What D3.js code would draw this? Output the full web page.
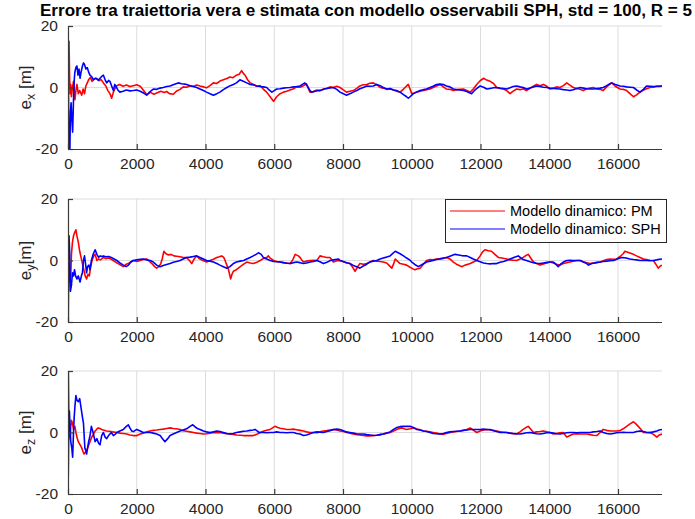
<!DOCTYPE html>
<html>
<head>
<meta charset="utf-8">
<script src="https://cdn.jsdelivr.net/npm/d3@7"></script>
<style>
  html, body { margin: 0; padding: 0; background: #fff; }
  svg { display: block; font-family: "Liberation Sans", Arial, Helvetica, sans-serif; }
</style>
</head>
<body>
<svg id="fig" width="695" height="519"></svg>
<script>
// Position error (m) versus time step, one panel per axis.
const titleText = "Errore tra traiettoria vera e stimata con modello osservabili SPH, std = 100, R = 5";
const seriesNames = ["Modello dinamico: PM", "Modello dinamico: SPH"];
const seriesColors = ["#ff0000", "#0000ff"];
const xTicks = [0, 2000, 4000, 6000, 8000, 10000, 12000, 14000, 16000];
const yTicks = [-20, 0, 20];
const xMax = 17280;

// e_x, dynamic model PM: [step, error]
const exPM = [[0,0],[15,6],[30,15],[45,4],[60,-2],[80,1],[100,-3],[130,0],[160,2],[200,-4],[230,-1],[260,1],[300,-2],[340,-1],[400,-2.5],[440,-0.5],[480,-2],[520,0.5],[560,1.5],[600,2.5],[650,3.3],[700,2],[760,2.8],[830,3],[900,2.2],[960,2.6],[1030,1.5],[1100,0.5],[1160,-1],[1220,-2],[1270,-3.5],[1320,-1.5],[1380,0],[1420,0.6],[1500,1],[1600,0.4],[1700,0.8],[1800,0.3],[1900,0.6],[2000,0.9],[2100,0.4],[2200,-1],[2290,-2.3],[2400,-1.6],[2500,-2.2],[2580,-1.8],[2700,-1.2],[2800,-1.6],[2870,-1.3],[2950,-2],[3065,-2.2],[3150,-1.2],[3260,-0.6],[3350,0.2],[3450,0.1],[3550,0.6],[3650,0.3],[3740,0.8],[3840,0.5],[3950,0.2],[4030,-0.1],[4130,0.6],[4230,1.5],[4320,1.3],[4420,2.1],[4520,2.5],[4620,2.9],[4710,3.4],[4800,3.2],[4900,4],[4980,4.3],[5050,5.5],[5100,4.6],[5150,4],[5220,2.6],[5300,1.5],[5400,1],[5490,0.4],[5590,0.6],[5680,-0.5],[5780,-1.5],[5880,-3],[5980,-4.5],[6070,-3],[6170,-2],[6270,-1.5],[6360,-1.2],[6460,-0.8],[6560,-0.4],[6650,0.2],[6750,0.1],[6850,0.6],[6940,1.2],[6990,-0.3],[7040,-1.5],[7140,-1.3],[7240,-0.8],[7330,-1.1],[7430,-0.5],[7530,-0.3],[7620,0.2],[7720,0],[7820,0.4],[7913,0],[8010,-0.8],[8100,-1.5],[8200,-1.2],[8300,-1],[8400,-0.3],[8490,0.5],[8590,0.9],[8690,1],[8780,1.4],[8880,1.5],[8980,0.9],[9080,0],[9170,-0.2],[9270,-0.6],[9370,-0.5],[9470,-0.8],[9560,-1.2],[9660,-1.5],[9760,-0.5],[9850,0.5],[9900,1],[9950,-0.5],[10000,-2],[10070,-1.8],[10140,-1.5],[10240,-1.2],[10340,-1],[10430,-0.7],[10530,-0.5],[10620,0],[10720,0.5],[10820,1],[10920,0.2],[11010,-0.5],[11110,-0.6],[11210,-1],[11300,-0.7],[11400,-0.6],[11500,-0.5],[11600,-1],[11700,-1.5],[11790,-0.5],[11890,1],[11990,2.2],[12090,3],[12180,2.4],[12280,2],[12380,1.3],[12470,0],[12570,-0.3],[12670,-0.5],[12760,-1],[12860,-2],[12950,-1.2],[13050,-0.5],[13150,-0.7],[13240,-0.4],[13340,-1],[13440,-0.2],[13540,0.4],[13630,1],[13730,0.6],[13830,1],[13930,0.4],[14020,-0.5],[14120,-0.2],[14210,0.2],[14310,0],[14410,0.6],[14510,1.5],[14600,0.8],[14700,0],[14800,-0.3],[14900,-0.6],[14990,-1],[15090,-0.4],[15190,-0.2],[15280,0],[15380,-0.5],[15480,-0.6],[15570,-1],[15670,0.2],[15770,1.2],[15820,1.5],[15920,0.4],[16060,-0.5],[16150,-0.6],[16250,-1],[16350,-2],[16450,-3],[16540,-2.4],[16640,-1.5],[16740,-0.8],[16830,-0.4],[16930,0],[17030,0.1],[17130,0.4],[17200,0.3],[17280,0.5]];

// e_x, dynamic model SPH
const exSPH = [[0,20],[10,5],[20,-12],[35,-20],[55,-20],[70,-8],[90,-5],[110,-10],[135,-14.5],[160,-4],[185,3],[200,5],[230,6.5],[260,7],[290,4],[320,6],[350,3],[380,5],[420,7],[450,8],[480,7.5],[520,6],[560,6.5],[600,5],[640,4],[690,3.5],[740,2.5],[790,3],[830,2.8],[880,2.4],[930,3],[980,3.6],[1030,4],[1080,2.5],[1125,1.5],[1180,2.3],[1220,2],[1270,0.5],[1320,-1],[1360,1],[1400,0.3],[1450,-0.8],[1510,-1.5],[1600,-1.2],[1700,-0.8],[1800,-1.1],[1900,-1],[2000,-0.8],[2100,-1.2],[2200,-1.8],[2290,-2.5],[2380,-1.4],[2480,-0.5],[2580,-0.6],[2680,-0.2],[2770,0],[2870,0.3],[2970,0.5],[3060,0.9],[3160,1.3],[3210,1.5],[3300,1.2],[3400,1.1],[3450,1],[3550,0.6],[3650,0.3],[3740,0],[3840,-0.5],[3940,-1],[4030,-1.5],[4130,-2],[4230,-2.5],[4330,-2],[4420,-1.5],[4520,-0.7],[4620,0],[4720,0.6],[4810,1],[4900,1.5],[5000,2.5],[5100,2],[5200,1.5],[5300,1],[5400,0.8],[5490,0.5],[5590,0.3],[5680,0.2],[5780,0],[5850,-0.8],[5930,-1.5],[6000,-1],[6070,-0.5],[6170,-0.4],[6270,-0.2],[6360,-0.1],[6460,0],[6560,0.2],[6650,0.3],[6750,0.5],[6820,1],[6890,1.5],[6960,0.5],[7040,-1],[7090,-1.5],[7190,-1.2],[7290,-1],[7380,-0.8],[7480,-0.4],[7580,-0.2],[7720,0],[7820,-0.6],[7913,-1.5],[8010,-2],[8100,-2.5],[8200,-2],[8300,-1.5],[8400,-1],[8490,-0.4],[8590,0],[8690,0.5],[8780,0.4],[8880,0.5],[8980,1],[9080,0.6],[9170,0],[9270,-0.5],[9370,-0.3],[9470,-0.8],[9560,-1],[9660,-1.5],[9760,-2.3],[9850,-3],[9900,-3.5],[9950,-3],[10050,-2],[10140,-1.5],[10240,-1],[10340,-0.7],[10430,-0.5],[10530,0],[10620,0.4],[10720,1],[10820,1.1],[10920,1],[11010,0.5],[11110,0.2],[11210,-0.5],[11300,-0.7],[11400,-0.8],[11500,-1],[11600,-1.3],[11740,-2],[11840,-0.8],[11990,0.5],[12090,0.1],[12180,-0.5],[12280,-0.3],[12380,-0.1],[12470,0],[12570,-0.2],[12670,-0.3],[12760,-0.5],[12860,-0.1],[12950,0.3],[13050,0.5],[13150,0.2],[13240,0],[13340,-0.5],[13440,-0.2],[13540,0.2],[13630,0.5],[13730,0.3],[13830,0.1],[13930,0],[14020,-0.2],[14120,-0.3],[14210,-0.4],[14310,-0.5],[14410,-0.7],[14510,-0.8],[14600,-1],[14700,-0.7],[14800,-0.3],[14900,0],[14990,-0.2],[15090,-0.4],[15190,-0.5],[15280,-0.5],[15380,-0.3],[15480,-0.2],[15570,0],[15670,0.6],[15770,1.2],[15820,1.5],[15920,1],[16060,0.5],[16150,0.4],[16250,0.2],[16350,0.1],[16450,0],[16540,-0.8],[16640,-1.5],[16740,-0.6],[16830,0.5],[16930,0.4],[17030,0.3],[17130,0.4],[17280,0.5]];

// e_y, dynamic model PM
const eyPM = [[0,0],[20,4],[40,-3],[60,-7],[80,-5],[100,2],[130,6],[160,8],[190,9],[230,10],[260,8],[300,6],[340,3],[380,1],[420,-1],[460,-3],[500,-5],[540,-6],[580,-4.5],[620,-5],[660,-2],[700,0],[750,1.5],[790,2],[840,0],[890,0.5],[940,0.2],[990,0.6],[1030,1],[1100,0.6],[1180,0.8],[1260,0.4],[1340,-0.2],[1420,-0.8],[1460,-1],[1530,-1.5],[1610,-2],[1680,-1.3],[1750,-1],[1830,-0.4],[1900,0],[2000,-0.3],[2100,0],[2190,0.3],[2290,0.5],[2380,-0.4],[2440,-1],[2520,-2],[2580,-2.5],[2640,-2],[2700,-1],[2740,0.5],[2790,3],[2850,2.2],[2930,1.8],[3000,2],[3080,1.5],[3160,1.4],[3260,1.2],[3350,1],[3450,1],[3530,0],[3600,-1],[3660,0.3],[3740,1.5],[3800,0.8],[3840,0.5],[3930,0],[4030,-0.5],[4130,0],[4230,0.4],[4330,1],[4400,1.2],[4470,1.5],[4530,1],[4570,0],[4620,-1.5],[4670,-3],[4730,-6],[4770,-4.5],[4810,-3.5],[4900,-3],[5010,-2],[5110,-1.2],[5200,-0.5],[5300,-0.8],[5390,-1],[5490,-0.6],[5590,0],[5680,0.6],[5780,1],[5830,1.5],[5880,0.8],[5980,0],[6070,-0.3],[6170,-0.5],[6270,-0.7],[6360,-0.8],[6460,-1],[6530,0],[6610,2],[6700,1.5],[6750,1],[6800,0.2],[6850,-0.5],[6940,-0.2],[7040,0],[7140,0.1],[7240,0],[7330,1.5],[7430,1.2],[7530,1],[7620,1],[7720,-0.5],[7820,-0.1],[7913,0],[8010,-0.4],[8100,-0.7],[8200,-1],[8270,-2],[8350,-3.5],[8420,-2.2],[8490,-1],[8590,-1.2],[8690,-1],[8780,-0.5],[8880,0],[8980,-0.2],[9080,-0.3],[9170,-0.5],[9270,-0.8],[9340,-1.6],[9420,-2.5],[9470,-1.2],[9520,0.5],[9590,-0.3],[9660,-1],[9760,-1.2],[9850,-1.5],[9950,-2.2],[10050,-2.8],[10090,-3],[10170,-2.7],[10240,-2.5],[10340,-1.2],[10430,0],[10530,0.3],[10620,0.2],[10720,0.5],[10820,0.6],[10920,0.8],[11010,1],[11110,0.5],[11210,-0.5],[11300,-1.2],[11380,-1.6],[11450,-2],[11550,-1.5],[11640,-1.2],[11700,-1],[11790,-0.5],[11890,0],[11990,1.5],[12060,2.8],[12130,3.5],[12230,3.2],[12320,3],[12420,2],[12520,1],[12620,0.8],[12760,0.5],[12860,0.2],[12950,0.1],[13050,0],[13150,0.5],[13240,1],[13320,1.6],[13390,2],[13460,0.8],[13540,-0.5],[13630,-1],[13730,-1.5],[13830,-1.1],[13930,-0.8],[14020,-0.5],[14120,-0.8],[14210,-1.2],[14310,-1.5],[14410,-1],[14510,-0.7],[14600,-0.5],[14700,-0.2],[14800,0],[14900,0],[14990,-0.4],[15090,-0.7],[15190,-1],[15280,-0.8],[15380,-0.6],[15480,-0.5],[15570,-0.1],[15670,0.3],[15770,0.5],[15870,0.4],[15960,0.5],[16060,1.3],[16150,2.2],[16200,3],[16300,2.6],[16450,2],[16540,1.5],[16640,1],[16740,0.5],[16830,0.3],[16930,0.1],[17030,0],[17100,-1.2],[17170,-2.5],[17230,-1.8],[17280,-1.5]];

// e_y, dynamic model SPH
const eySPH = [[0,20],[8,-20],[15,-8],[30,8],[50,2],[70,-10],[100,-8],[130,-4],[160,-5],[190,-3],[220,-5],[260,-6],[300,-5],[350,-7],[390,-5],[420,-4],[450,0],[480,1.5],[510,-1],[540,-4],[570,-2],[610,-1.5],[640,-3],[680,0],[730,2],[790,3.5],[840,2],[890,1],[940,1.5],[990,1.3],[1030,1.5],[1100,1.2],[1180,1.3],[1260,1],[1340,0.5],[1420,0],[1510,-0.8],[1610,-1.5],[1690,-2],[1760,-1.5],[1830,-0.5],[1900,0],[2000,0.2],[2100,0.4],[2190,0.5],[2290,0.2],[2390,0],[2480,-0.5],[2580,-1.5],[2680,-2],[2770,-1.6],[2870,-1.3],[2970,-1],[3060,-0.6],[3160,-0.3],[3260,0],[3350,0.5],[3450,1],[3550,1.1],[3650,1.3],[3740,1.5],[3840,1],[3940,0.5],[4030,0],[4130,-0.2],[4230,-0.5],[4330,-1],[4420,-1.5],[4520,-2],[4620,-2.5],[4710,-2],[4810,-1],[4900,-0.5],[5010,-0.2],[5110,0],[5200,0.5],[5300,1],[5390,1.5],[5470,2],[5540,2.5],[5620,2],[5680,1],[5780,0.5],[5880,0],[5980,-0.3],[6070,-0.4],[6170,-0.5],[6270,-0.7],[6360,-0.9],[6460,-1],[6560,-0.7],[6650,-0.5],[6750,-0.7],[6850,-1],[6940,-0.8],[7040,-0.5],[7140,-0.3],[7240,0],[7330,-0.4],[7430,-1],[7530,-0.6],[7630,0],[7720,0.2],[7870,0.5],[7913,0],[8010,-0.3],[8100,-0.7],[8200,-1],[8300,-1.6],[8400,-2],[8490,-2.5],[8590,-1.8],[8690,-1.2],[8780,-0.5],[8880,-0.2],[8980,0],[9080,0.5],[9170,0.8],[9270,1.1],[9370,1.5],[9450,2.3],[9520,3],[9590,2.6],[9660,2.2],[9760,1.5],[9850,0.8],[9950,0.1],[10000,-0.5],[10090,-1.3],[10190,-2],[10290,-1.4],[10430,-0.5],[10530,-0.2],[10620,0],[10720,0.3],[10820,0.5],[10920,0.7],[11010,1],[11110,1.4],[11260,2],[11360,1.8],[11450,1.6],[11600,1.5],[11700,1],[11790,0.5],[11890,0],[11990,-0.4],[12090,-0.8],[12180,-1],[12280,-1.1],[12380,-1],[12470,-1],[12570,-0.6],[12670,-0.3],[12760,0],[12860,0.5],[12950,0.9],[13050,1.3],[13100,1.5],[13180,0.8],[13240,0.3],[13340,0],[13440,-0.4],[13540,-0.7],[13630,-0.9],[13730,-1],[13830,-0.8],[13930,-0.6],[14020,-0.5],[14120,-0.5],[14190,-1.2],[14260,-2],[14330,-1.2],[14410,-0.5],[14510,0],[14600,0.1],[14700,0],[14800,0],[14900,0],[14990,-0.5],[15090,-1],[15140,-1.5],[15240,-1],[15380,-0.7],[15480,-0.5],[15570,-0.3],[15670,-0.2],[15770,-0.1],[15870,0],[15960,0.4],[16060,0.8],[16110,1],[16200,0.9],[16350,0.5],[16450,0.3],[16540,0.2],[16640,0],[16740,0.1],[16830,0],[16930,-0.1],[17030,0],[17130,0.2],[17200,0.4],[17280,0.5]];

// e_z, dynamic model PM
const ezPM = [[0,20],[10,20],[20,10],[30,3],[45,0],[60,-2],[80,2],[100,4],[130,3],[160,1],[200,2],[230,0],[260,-1.5],[300,-3],[340,-3.8],[400,-5],[430,-6],[465,-7],[500,-6.5],[540,-6],[590,-4.5],[640,-3],[690,-1.5],[740,-0.5],[790,0.5],[830,1],[880,1.5],[930,1.3],[980,1],[1030,0.8],[1120,0.5],[1200,0.4],[1300,0.2],[1420,0],[1510,-0.2],[1610,-0.3],[1710,-0.5],[1800,-0.8],[1900,-1],[2000,-1],[2100,-0.5],[2190,-0.2],[2290,0.2],[2390,0.5],[2480,0.7],[2580,0.8],[2680,1],[2770,1.1],[2870,1.3],[2970,1.5],[3060,1.3],[3160,1.2],[3260,1],[3350,0.6],[3450,0.4],[3550,0.2],[3650,0],[3740,-0.2],[3840,-0.3],[3940,-0.5],[4030,-0.4],[4130,-0.2],[4230,0],[4330,-0.1],[4420,0],[4520,-0.2],[4620,-0.4],[4710,-0.5],[4810,-0.6],[4900,-0.8],[5010,-0.9],[5110,-1],[5200,-1],[5300,-1],[5390,-1],[5490,-0.6],[5590,0],[5680,0.4],[5780,0.7],[5880,1],[5950,1.5],[6020,2],[6100,1.6],[6170,1.4],[6270,1.2],[6360,1],[6460,1],[6560,1.1],[6650,0.9],[6750,0.7],[6850,0.5],[6940,0.2],[7040,0],[7140,0],[7240,-0.1],[7330,0.2],[7430,0.5],[7530,0.6],[7620,0.8],[7720,1],[7820,0.8],[7913,0.5],[8010,0.3],[8100,0],[8200,-0.2],[8300,-0.5],[8400,-0.7],[8490,-0.8],[8590,-1],[8690,-1.1],[8780,-1.1],[8880,-1],[8980,-0.9],[9080,-0.7],[9170,-0.5],[9270,-0.2],[9370,0],[9470,0.5],[9560,1],[9660,1.4],[9710,1.5],[9780,1.2],[9850,1],[9950,1.2],[10050,1.5],[10140,1.2],[10240,0.9],[10340,0.5],[10430,0.4],[10530,0.2],[10620,0],[10720,-0.2],[10820,-0.5],[10920,-0.6],[11010,-0.3],[11110,0],[11210,0.2],[11300,0.3],[11400,0.5],[11500,0.7],[11600,1],[11700,1.5],[11790,0.8],[11890,0],[11990,0.5],[12090,0.8],[12180,1],[12280,0.8],[12380,0.7],[12470,0.5],[12570,0.2],[12670,0.1],[12760,0],[12860,-0.2],[12950,-0.4],[13050,-0.5],[13150,0.2],[13240,1],[13320,1.6],[13390,2],[13470,1],[13540,0],[13630,0.2],[13730,0.3],[13830,0.5],[13930,0.2],[14020,0],[14120,-0.5],[14210,-0.3],[14310,-0.1],[14410,0],[14460,-0.8],[14510,-1.5],[14600,-1],[14700,-0.5],[14800,-0.4],[14900,-0.5],[14990,-0.5],[15090,-0.5],[15190,-0.7],[15280,-0.9],[15380,-1],[15480,0],[15570,1],[15670,0.7],[15770,0.5],[15870,0.5],[15960,0.5],[16060,0.6],[16150,1.2],[16250,2],[16350,2.8],[16450,3.5],[16520,2.8],[16590,2],[16670,1],[16740,0],[16830,-0.1],[16930,0],[17030,-0.6],[17130,-1.5],[17200,-0.8],[17280,-0.5]];

// e_z, dynamic model SPH
const ezSPH = [[0,20],[8,-14],[20,0],[40,7],[60,2],[80,-3],[110,-5],[135,-8],[160,0],[180,5],[205,9],[230,12],[260,10.5],[300,10],[340,11],[380,8],[420,5],[450,3],[470,-1],[490,-5],[520,-6],[540,-7],[570,-5],[600,-3],[640,-1],[680,2],[730,0],[790,-3],[840,-2],[890,-3.5],[930,-4],[980,-1],[1030,0],[1080,-1.5],[1125,-2],[1180,-1],[1260,0],[1320,-1],[1380,-0.5],[1420,0],[1510,0.5],[1610,1],[1680,1.8],[1755,2.5],[1800,1.5],[1850,0.5],[1900,0.3],[2000,1],[2100,0.5],[2190,0],[2290,0],[2390,0],[2480,-0.2],[2580,-0.5],[2680,-1],[2750,-2],[2820,-3],[2900,-2],[2970,-1],[3060,-0.5],[3160,0],[3260,0.5],[3350,0.8],[3450,1.2],[3550,2],[3630,2.5],[3700,1.8],[3780,1.2],[3840,1],[3940,0.5],[4030,0.2],[4130,0],[4230,0.2],[4330,0.5],[4420,0.3],[4520,0],[4620,-0.3],[4710,-0.5],[4810,-0.3],[4900,0],[5010,0.2],[5110,0.4],[5200,0.5],[5300,0.7],[5390,0.8],[5440,1],[5500,0.5],[5560,0],[5680,0],[5780,-0.1],[5880,0],[5980,0],[6070,0.2],[6170,0],[6270,0],[6360,-0.1],[6460,0],[6560,0],[6650,-0.3],[6750,-0.5],[6850,-1],[6940,-0.8],[7040,-0.4],[7140,0],[7240,0.2],[7330,0.1],[7430,0],[7530,0.3],[7620,0.6],[7720,1],[7820,1.1],[7913,1],[8010,0.6],[8100,0.2],[8200,0],[8300,-0.2],[8400,-0.4],[8490,-0.5],[8590,-0.5],[8690,-0.7],[8780,-0.8],[8880,-1],[8980,-0.9],[9080,-0.7],[9170,-0.5],[9270,-0.2],[9370,0.2],[9470,1],[9560,1.6],[9660,1.9],[9760,2],[9850,2],[9950,2],[10050,1.6],[10140,1],[10240,0.8],[10340,0.5],[10430,0.3],[10530,0],[10620,-0.3],[10720,-0.4],[10820,-0.5],[10920,-0.3],[11010,0],[11110,0.2],[11210,0.3],[11300,0.4],[11400,0.5],[11500,0.7],[11600,0.8],[11700,1],[11790,1],[11890,1],[11990,1],[12090,1.1],[12180,1],[12280,1],[12380,0.6],[12470,0.3],[12570,0],[12670,0],[12760,0],[12860,-0.2],[12950,-0.3],[13050,-0.4],[13150,-0.5],[13240,-0.3],[13340,-0.1],[13440,0],[13540,-0.2],[13630,-0.4],[13730,-0.5],[13830,-0.3],[13930,-0.1],[14020,0],[14120,-0.2],[14210,-0.4],[14310,-0.5],[14410,-0.3],[14510,-0.1],[14600,0],[14700,0],[14800,-0.1],[14900,0],[14990,0],[15090,0],[15190,0],[15280,0.2],[15380,0.3],[15480,0.5],[15570,0],[15670,-0.3],[15770,-0.5],[15870,-0.3],[15960,-0.1],[16060,0],[16150,0.1],[16250,0],[16350,0],[16450,0],[16540,0.3],[16640,0.5],[16740,0.3],[16830,0.1],[16930,0],[17030,0.2],[17130,0.5],[17200,0.8],[17280,1]];

const panels = [
  { sub: "x", gap: " ", series: [exPM, exSPH], top: 26, legend: false },
  { sub: "y", gap: "", series: [eyPM, eySPH], top: 199, legend: true },
  { sub: "z", gap: " ", series: [ezPM, ezSPH], top: 371, legend: false }
];

const left = 68, right = 662, panelH = 123;
const axisColor = "#3a3a3a", gridColor = "#dcdcdc";
const svg = d3.select("#fig");

svg.append("text")
  .attr("x", (left + right) / 2 + 1).attr("y", 16)
  .attr("text-anchor", "middle")
  .attr("font-size", 16).attr("font-weight", "bold").attr("fill", "#000")
  .attr("textLength", 652).attr("lengthAdjust", "spacingAndGlyphs")
  .text(titleText);

const x = d3.scaleLinear().domain([0, xMax]).range([left, right]);

panels.forEach((p, i) => {
  const y = d3.scaleLinear().domain([-20, 20]).range([p.top + panelH, p.top]);
  const g = svg.append("g");

  // grid
  g.append("g").selectAll("line").data(xTicks.filter(d => d > 0)).join("line")
    .attr("x1", d => x(d)).attr("x2", d => x(d))
    .attr("y1", p.top).attr("y2", p.top + panelH)
    .attr("stroke", gridColor).attr("stroke-width", 1);
  g.append("g").selectAll("line").data(yTicks.filter(d => d > -20)).join("line")
    .attr("x1", left).attr("x2", right)
    .attr("y1", d => y(d)).attr("y2", d => y(d))
    .attr("stroke", gridColor).attr("stroke-width", 1);

  // data
  const clipId = "clip" + i;
  svg.append("clipPath").attr("id", clipId).append("rect")
    .attr("x", left).attr("y", p.top).attr("width", right - left).attr("height", panelH);
  const line = d3.line().x(d => x(d[0])).y(d => y(d[1]));
  const lines = g.append("g").attr("clip-path", `url(#${clipId})`);
  p.series.forEach((s, k) => {
    lines.append("path").datum(s)
      .attr("d", line)
      .attr("fill", "none")
      .attr("stroke", seriesColors[k])
      .attr("stroke-width", 1.6)
      .attr("stroke-linejoin", "round");
  });

  // axes (ticks pointing inward)
  const xAxis = d3.axisBottom(x).tickValues(xTicks).tickSize(-5).tickPadding(9).tickFormat(d3.format("d"));
  const ax = g.append("g").attr("transform", `translate(0,${p.top + panelH})`).call(xAxis);
  const yAxis = d3.axisLeft(y).tickValues(yTicks).tickSize(-5).tickPadding(10).tickFormat(d => d < 0 ? "-" + Math.abs(d) : d);
  const ay = g.append("g").attr("transform", `translate(${left},0)`).call(yAxis);
  [ax, ay].forEach(a => {
    a.select(".domain").attr("stroke", axisColor).attr("stroke-width", 1.2);
    a.selectAll(".tick line").attr("stroke", axisColor).attr("stroke-width", 1.2);
    a.selectAll(".tick text").attr("fill", "#262626").attr("font-size", 15.5)
      .attr("font-family", "Liberation Sans, Arial, sans-serif");
  });
  ax.select(".domain").attr("d", `M${left},0.5H${right}`);
  ay.select(".domain").attr("d", `M0.5,${p.top}V${p.top + panelH}`);

  // y label
  const lab = g.append("text")
    .attr("transform", `translate(31,${p.top + panelH / 2}) rotate(-90)`)
    .attr("text-anchor", "middle")
    .attr("font-size", 17).attr("fill", "#262626");
  lab.append("tspan").text("e");
  lab.append("tspan").attr("dy", 4).attr("font-size", 12.5).text(p.sub);
  lab.append("tspan").attr("dy", -4).text(p.gap + "[m]");

  if (p.legend) {
    const lg = g.append("g");
    lg.append("rect").attr("x", 445.5).attr("y", p.top + 0.5).attr("width", 221).attr("height", 43)
      .attr("fill", "#fff").attr("stroke", "#262626").attr("stroke-width", 1);
    seriesNames.forEach((n, k) => {
      const yy = p.top + 12 + k * 18;
      lg.append("line").attr("x1", 450).attr("x2", 505).attr("y1", yy).attr("y2", yy)
        .attr("stroke", seriesColors[k]).attr("stroke-width", 1.2);
      lg.append("text").attr("x", 510).attr("y", yy + 5)
        .attr("font-size", 14.5).attr("fill", "#000").text(n);
    });
  }
});
</script>
</body>
</html>
